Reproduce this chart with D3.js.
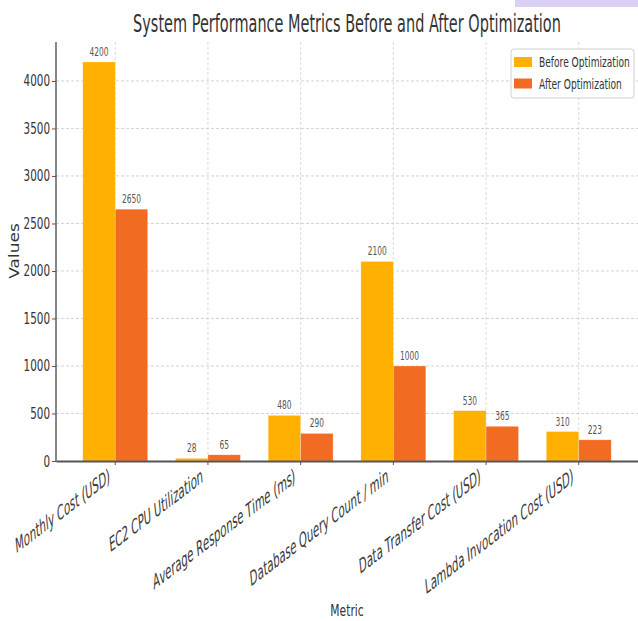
<!DOCTYPE html>
<html><head><meta charset="utf-8">
<script src="https://cdn.jsdelivr.net/npm/d3@7"></script>
<style>html,body{margin:0;padding:0;background:#fff;}svg{display:block;}</style>
</head><body>
<svg id="c" width="638" height="621"></svg>
<script>
const categories = ["Monthly Cost (USD)", "EC2 CPU Utilization", "Average Response Time (ms)", "Database Query Count / min", "Data Transfer Cost (USD)", "Lambda Invocation Cost (USD)"];
const seriesNames = ["Before Optimization", "After Optimization"];
const beforeValues = [4200, 28, 480, 2100, 530, 310];
const afterValues = [2650, 65, 290, 1000, 365, 223];
const yTicks = [0, 500, 1000, 1500, 2000, 2500, 3000, 3500, 4000];
const colors = ["#FFB000", "#F26B23"];

const S = 0.65; // horizontal squish of glyphs
const FONT = "DejaVu Sans";
const svg = d3.select("#c");
const pL = 56, pR = 638, pT = 42, pB = 461;

// decorative strip top-right
svg.append("rect").attr("x", 515).attr("y", 0).attr("width", 123).attr("height", 7).attr("fill", "#dccff4");

const x0 = d3.scaleBand().domain(categories).range([pL, pR]).paddingInner(0.3).paddingOuter(0.289);
const x1 = d3.scaleBand().domain(seriesNames).range([0, x0.bandwidth()]).padding(0);
const y = d3.scaleLinear().domain([0, 4410]).range([pB, pT]);
const centerX = c => x0(c) + x0.bandwidth() / 2;

function txt(g, x, yy, str, opts) {
  const o = Object.assign({size: 15, anchor: "middle", rot: 0, sx: S, fill: "#333", style: "normal"}, opts || {});
  return g.append("text")
    .attr("transform", `translate(${x},${yy}) scale(${o.sx},1)` + (o.rot ? ` rotate(${o.rot})` : ""))
    .attr("text-anchor", o.anchor)
    .attr("font-family", FONT)
    .attr("font-size", o.size)
    .attr("font-style", o.style)
    .attr("fill", o.fill)
    .text(str);
}

// grid
const grid = svg.append("g");
grid.selectAll("line.gy").data(yTicks.filter(d => d > 0)).join("line")
  .attr("x1", pL).attr("x2", pR).attr("y1", d => y(d)).attr("y2", d => y(d))
  .attr("stroke", "#c8c8c8").attr("stroke-width", 0.8).attr("stroke-dasharray", "3,2");
grid.selectAll("line.gx").data(categories).join("line")
  .attr("x1", d => centerX(d)).attr("x2", d => centerX(d)).attr("y1", pT).attr("y2", pB)
  .attr("stroke", "#d0d0d0").attr("stroke-width", 0.8).attr("stroke-dasharray", "3,2");

// bars
const rows = categories.map((c, i) => ({c, vals: [beforeValues[i], afterValues[i]]}));
const gBars = svg.append("g");
rows.forEach(r => {
  r.vals.forEach((v, j) => {
    const bx = x0(r.c) + x1(seriesNames[j]);
    gBars.append("rect")
      .attr("x", bx).attr("y", y(v)).attr("width", x1.bandwidth()).attr("height", y(0) - y(v))
      .attr("fill", colors[j]).attr("stroke", "#fff").attr("stroke-opacity", 0.35).attr("stroke-width", 0.7);
    txt(gBars, bx + x1.bandwidth() / 2, y(v) - 6, String(v), {size: 11.5, fill: "#555"});
  });
});

// axes
const yAxis = svg.append("g").attr("transform", `translate(${pL},0)`)
  .call(d3.axisLeft(y).tickValues(yTicks).tickSize(4).tickFormat(d3.format("d")));
yAxis.select(".domain").remove();
yAxis.selectAll(".tick line").attr("stroke", "#555");
yAxis.selectAll(".tick text").remove();
yTicks.forEach(t => txt(svg, pL - 6, y(t) + 5.5, String(t), {size: 16, anchor: "end", fill: "#333"}));

svg.append("line").attr("x1", pL).attr("x2", pL).attr("y1", pT).attr("y2", pB + 1)
  .attr("stroke", "#555").attr("stroke-width", 1.4);

const xAxis = svg.append("g").attr("transform", `translate(0,${pB})`)
  .call(d3.axisBottom(x0).tickSize(4).tickSizeOuter(0));
xAxis.select(".domain").attr("stroke", "#555").attr("stroke-width", 2);
xAxis.selectAll(".tick line").attr("stroke", "#555");
xAxis.selectAll(".tick text").remove();
categories.forEach(c => txt(svg, centerX(c) - 4, 481, c, {size: 19.7, anchor: "end", rot: -22, sx: 0.53, style: "italic", fill: "#3a3a3a"}));

// axis labels
txt(svg, 347, 616, "Metric", {size: 16.5});
txt(svg, 19, 251, "Values", {size: 17, rot: -90, sx: 0.8});

// title
const title = txt(svg, 347, 32, "System Performance Metrics Before and After Optimization", {size: 24, sx: 1});
const tw = title.node().getComputedTextLength();
title.attr("transform", `translate(347,32) scale(${428 / tw},1)`);

// legend
const lg = svg.append("g");
lg.append("rect").attr("x", 511).attr("y", 49).attr("width", 123).attr("height", 49).attr("rx", 3)
  .attr("fill", "#fff").attr("fill-opacity", 0.85).attr("stroke", "#d0d0d0").attr("stroke-width", 1);
seriesNames.forEach((s, i) => {
  lg.append("rect").attr("x", 514).attr("y", 57 + i * 21.5).attr("width", 18).attr("height", 10).attr("fill", colors[i]);
  txt(lg, 539, 67 + i * 21.5, s, {size: 14, anchor: "start"});
});
</script>
</body></html>
